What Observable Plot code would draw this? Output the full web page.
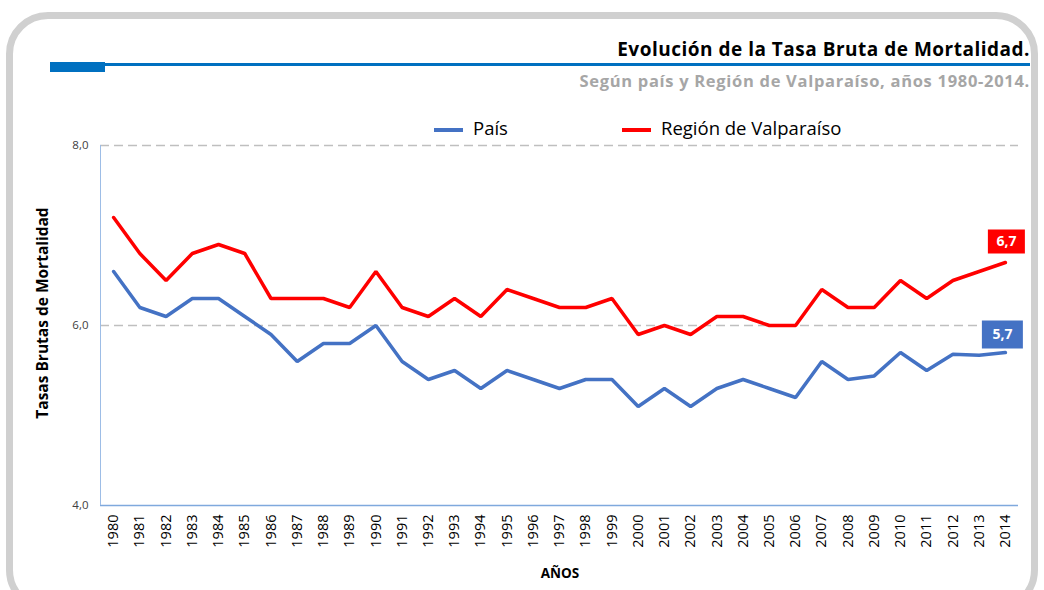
<!DOCTYPE html>
<html><head><meta charset="utf-8">
<script src="https://cdn.jsdelivr.net/npm/d3@7"></script>
<script src="https://cdn.jsdelivr.net/npm/@observablehq/plot@0.6"></script>
<style>
body{margin:0;background:#fff;font-family:"Open Sans",Lato,sans-serif;}
#wrap{position:relative;width:1044px;height:590px;overflow:hidden;}
#frame{position:absolute;left:6px;top:12px;width:1032px;height:600px;box-sizing:border-box;border:7px solid #d0d0d0;border-radius:42px;}
.abs{position:absolute;white-space:nowrap;}
#title{right:14px;top:36px;font-size:19px;font-weight:700;color:#000;letter-spacing:0.5px;}
#sub{right:14px;top:69px;font-size:16.5px;font-weight:700;color:#a6a6a6;letter-spacing:0.7px;}
#rule{left:50px;top:63px;width:980px;height:3px;background:#0070c0;}
#block{left:50px;top:62px;width:55px;height:10px;background:#0070c0;}
.leg{top:115px;font-size:18.5px;color:#000;}
.sw{height:4px;width:29px;top:128px;}
#ylab{left:42px;top:313px;transform:translate(-50%,-50%) rotate(-90deg);font-size:15.5px;font-weight:700;}
#xlab{left:560px;top:564px;transform:translateX(-50%);font-size:13.5px;font-weight:700;}
svg{position:absolute;left:0;top:0;}
</style></head>
<body><div id="wrap">
<div id="frame"></div>
<div class="abs" id="title">Evolución de la Tasa Bruta de Mortalidad.</div>
<div class="abs" id="rule"></div><div class="abs" id="block"></div>
<div class="abs" id="sub">Según país y Región de Valparaíso, años 1980-2014.</div>
<div class="abs sw" style="left:434px;background:#4472c4"></div>
<div class="abs leg" style="left:473px">País</div>
<div class="abs sw" style="left:622px;background:#ff0000"></div>
<div class="abs leg" style="left:661px">Región de Valparaíso</div>
<div class="abs" id="ylab">Tasas Brutas de Mortalidad</div>
<div class="abs" id="xlab">AÑOS</div>
</div>
<script>
const years = d3.range(1980, 2015);
const pais = [6.6,6.2,6.1,6.3,6.3,6.1,5.9,5.6,5.8,5.8,6.0,5.6,5.4,5.5,5.3,5.5,5.4,5.3,5.4,5.4,5.1,5.3,5.1,5.3,5.4,5.3,5.2,5.6,5.4,5.44,5.7,5.5,5.68,5.67,5.7];
const valparaiso = [7.2,6.8,6.5,6.8,6.9,6.8,6.3,6.3,6.3,6.2,6.6,6.2,6.1,6.3,6.1,6.4,6.3,6.2,6.2,6.3,5.9,6.0,5.9,6.1,6.1,6.0,6.0,6.4,6.2,6.2,6.5,6.3,6.5,6.6,6.7];
const yTicks = [4, 6, 8];
const series = [
  {name: "País", values: pais, color: "#4472c4"},
  {name: "Región de Valparaíso", values: valparaiso, color: "#ff0000"}
];
const rows = series.flatMap(s => years.map((yr, i) => ({year: yr, value: s.values[i], serie: s.name})));
const last = series.map(s => ({year: years[years.length-1], value: s.values[s.values.length-1], serie: s.name, color: s.color}));
const fmt = v => v.toFixed(1).replace(".", ",");
const box = (w, h) => ({draw(ctx){ ctx.rect(-w/2, -h/2, w, h); }});
const lastP = last[0], lastV = last[1];

const chart = Plot.plot({
  width: 1044, height: 590,
  marginTop: 145, marginBottom: 85, marginLeft: 100, marginRight: 26,
  style: {fontFamily: "'Open Sans', sans-serif", background: "transparent", overflow: "visible"},
  x: {type: "linear", domain: [1979.5, 2014.5]},
  y: {domain: [4, 8]},
  color: {domain: series.map(s => s.name), range: series.map(s => s.color)},
  marks: [
    Plot.ruleY([6, 8], {stroke: "#bfbfbf", strokeWidth: 1.5, strokeDasharray: "9,5"}),
    Plot.ruleY([4], {stroke: "#7fa9dd", strokeWidth: 1.5}),
    Plot.ruleX([1979.5], {y1: 4, y2: 8, stroke: "#9dbde6", strokeWidth: 1}),
    Plot.axisY({ticks: yTicks, tickSize: 0, tickPadding: 12, tickFormat: fmt, label: null, fontSize: 11.5, color: "#404040"}),
    Plot.axisX({ticks: years, tickSize: 0, tickPadding: 9, tickRotate: -90, tickFormat: d => String(d), label: null, fontSize: 14.5, color: "#000"}),
    Plot.line(rows, {x: "year", y: "value", z: "serie", stroke: "serie", strokeWidth: 3.5, strokeLinejoin: "miter"}),
    Plot.dot([lastV], {x: "year", y: "value", fill: "#ff0000", stroke: null, symbol: box(37, 24), dx: 1, dy: -21}),
    Plot.text([lastV], {x: "year", y: "value", text: d => fmt(d.value), fill: "#fff", fontWeight: "bold", fontSize: 14, dx: 1, dy: -21}),
    Plot.dot([lastP], {x: "year", y: "value", fill: "#4472c4", stroke: null, symbol: box(41, 28), dx: -3, dy: -18}),
    Plot.text([lastP], {x: "year", y: "value", text: d => fmt(d.value), fill: "#fff", fontWeight: "bold", fontSize: 14, dx: -3, dy: -18})
  ]
});
document.getElementById("wrap").appendChild(chart);
</script>
</body></html>
